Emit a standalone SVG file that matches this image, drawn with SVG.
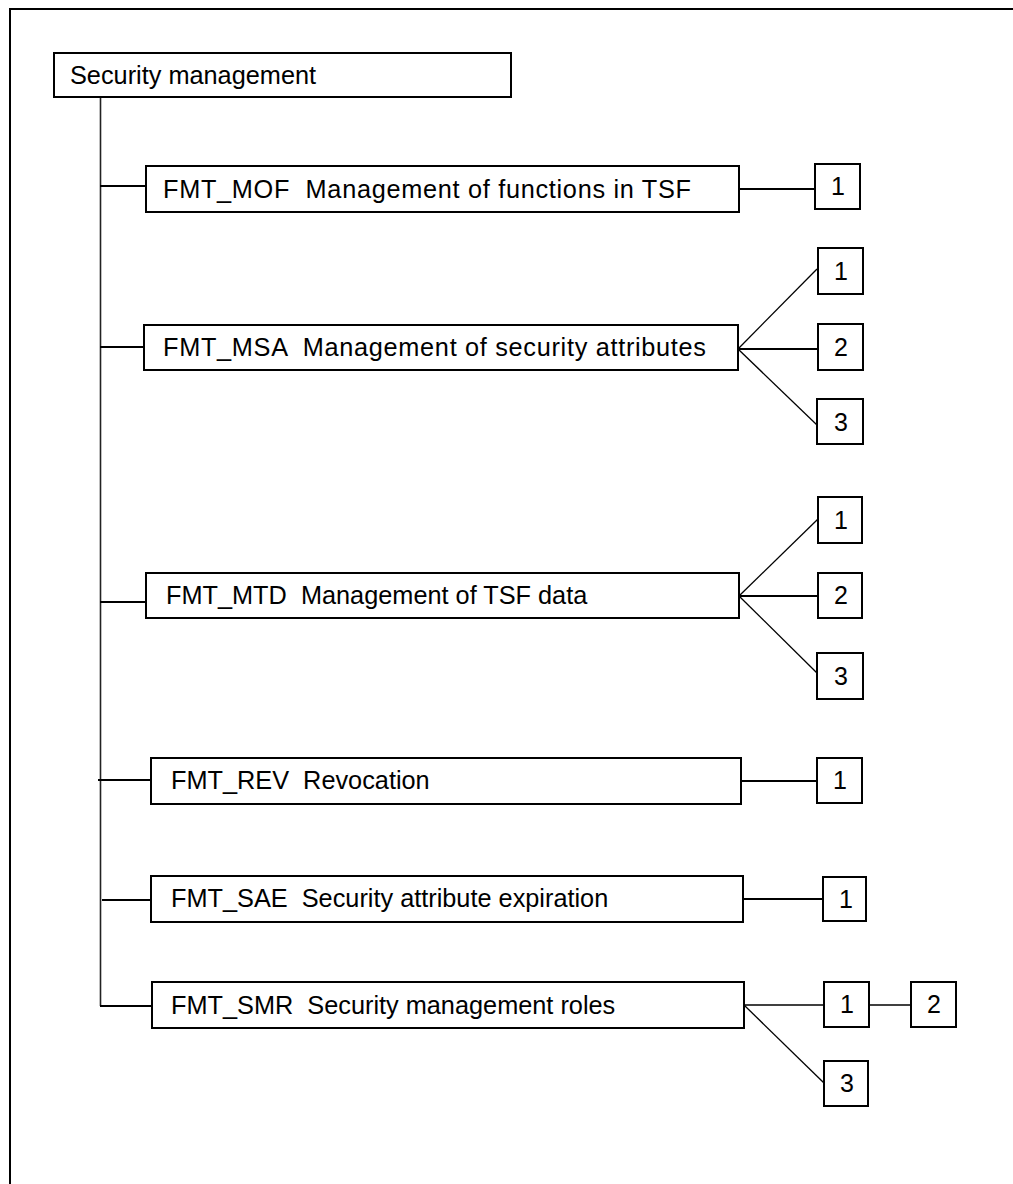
<svg xmlns="http://www.w3.org/2000/svg" width="1013" height="1184" viewBox="0 0 1013 1184">
<style>
.box{fill:#fff;stroke:#000;stroke-width:2}
.t{font-family:"Liberation Sans",Arial,sans-serif;font-size:25.3px;fill:#000;white-space:pre}
.n{font-family:"Liberation Sans",Arial,sans-serif;font-size:25px;fill:#000;text-anchor:middle}
.c{stroke:#000;stroke-width:2;fill:none}
.d{stroke:#000;stroke-width:1.3;fill:none}
</style>
<rect width="1013" height="1184" fill="#fff"/>
<path d="M10,1184 V9 H1013" class="c"/>
<g id="connectors">
<line x1="100.5" y1="97" x2="100.5" y2="1006" stroke="#222" stroke-width="1.6"/>
<line x1="100" y1="186" x2="146" y2="186" class="c"/>
<line x1="100" y1="347" x2="144" y2="347" class="c"/>
<line x1="100" y1="602" x2="146" y2="602" class="c"/>
<line x1="98" y1="780" x2="151" y2="780" class="c"/>
<line x1="102" y1="900" x2="151" y2="900" class="c"/>
<line x1="100" y1="1006" x2="152" y2="1006" class="c"/>
<line x1="739" y1="189" x2="815" y2="189" class="c"/>
<line x1="738" y1="349" x2="817" y2="269" class="d"/>
<line x1="738" y1="349" x2="818" y2="349" class="c"/>
<line x1="738" y1="349" x2="817" y2="425" class="d"/>
<line x1="739" y1="596" x2="818" y2="519" class="d"/>
<line x1="739" y1="596" x2="818" y2="596" class="c"/>
<line x1="739" y1="596" x2="817" y2="673" class="d"/>
<line x1="741" y1="781" x2="817" y2="781" class="c"/>
<line x1="743" y1="899" x2="823" y2="899" class="c"/>
<line x1="744" y1="1005" x2="824" y2="1005" class="d"/>
<line x1="869" y1="1005" x2="911" y2="1005" class="d"/>
<line x1="744" y1="1005" x2="824" y2="1083" class="d"/>
</g>
<g id="root"><rect class="box" x="54" y="53" width="457" height="44"/><text class="t" x="70" y="84">Security management</text></g>
<g id="mof"><rect class="box" x="146" y="166" width="593" height="46"/><text class="t" x="163" y="198" textLength="528" lengthAdjust="spacing">FMT_MOF  Management of functions in TSF</text></g>
<g id="msa"><rect class="box" x="144" y="325" width="594" height="45"/><text class="t" x="163" y="356" textLength="543" lengthAdjust="spacing">FMT_MSA  Management of security attributes</text></g>
<g id="mtd"><rect class="box" x="146" y="573" width="593" height="45"/><text class="t" x="166" y="604">FMT_MTD  Management of TSF data</text></g>
<g id="rev"><rect class="box" x="151" y="758" width="590" height="46"/><text class="t" x="171" y="789">FMT_REV  Revocation</text></g>
<g id="sae"><rect class="box" x="151" y="876" width="592" height="46"/><text class="t" x="171" y="907">FMT_SAE  Security attribute expiration</text></g>
<g id="smr"><rect class="box" x="152" y="982" width="592" height="46"/><text class="t" x="171" y="1014">FMT_SMR  Security management roles</text></g>
<g id="mof1"><rect class="box" x="815" y="164" width="45" height="45"/><text class="n" x="838" y="195">1</text></g>
<g id="msa1"><rect class="box" x="818" y="248" width="45" height="46"/><text class="n" x="841" y="280">1</text></g>
<g id="msa2"><rect class="box" x="818" y="324" width="45" height="46"/><text class="n" x="841" y="356">2</text></g>
<g id="msa3"><rect class="box" x="817" y="399" width="46" height="45"/><text class="n" x="841" y="431">3</text></g>
<g id="mtd1"><rect class="box" x="818" y="497" width="44" height="46"/><text class="n" x="841" y="529">1</text></g>
<g id="mtd2"><rect class="box" x="818" y="573" width="44" height="45"/><text class="n" x="841" y="604">2</text></g>
<g id="mtd3"><rect class="box" x="817" y="653" width="46" height="46"/><text class="n" x="841" y="685">3</text></g>
<g id="rev1"><rect class="box" x="817" y="758" width="45" height="45"/><text class="n" x="840" y="789">1</text></g>
<g id="sae1"><rect class="box" x="823" y="877" width="43" height="44"/><text class="n" x="846" y="908">1</text></g>
<g id="smr1"><rect class="box" x="824" y="982" width="45" height="45"/><text class="n" x="847" y="1013">1</text></g>
<g id="smr2"><rect class="box" x="911" y="982" width="45" height="45"/><text class="n" x="934" y="1013">2</text></g>
<g id="smr3"><rect class="box" x="824" y="1061" width="44" height="45"/><text class="n" x="847" y="1092">3</text></g>
</svg>
